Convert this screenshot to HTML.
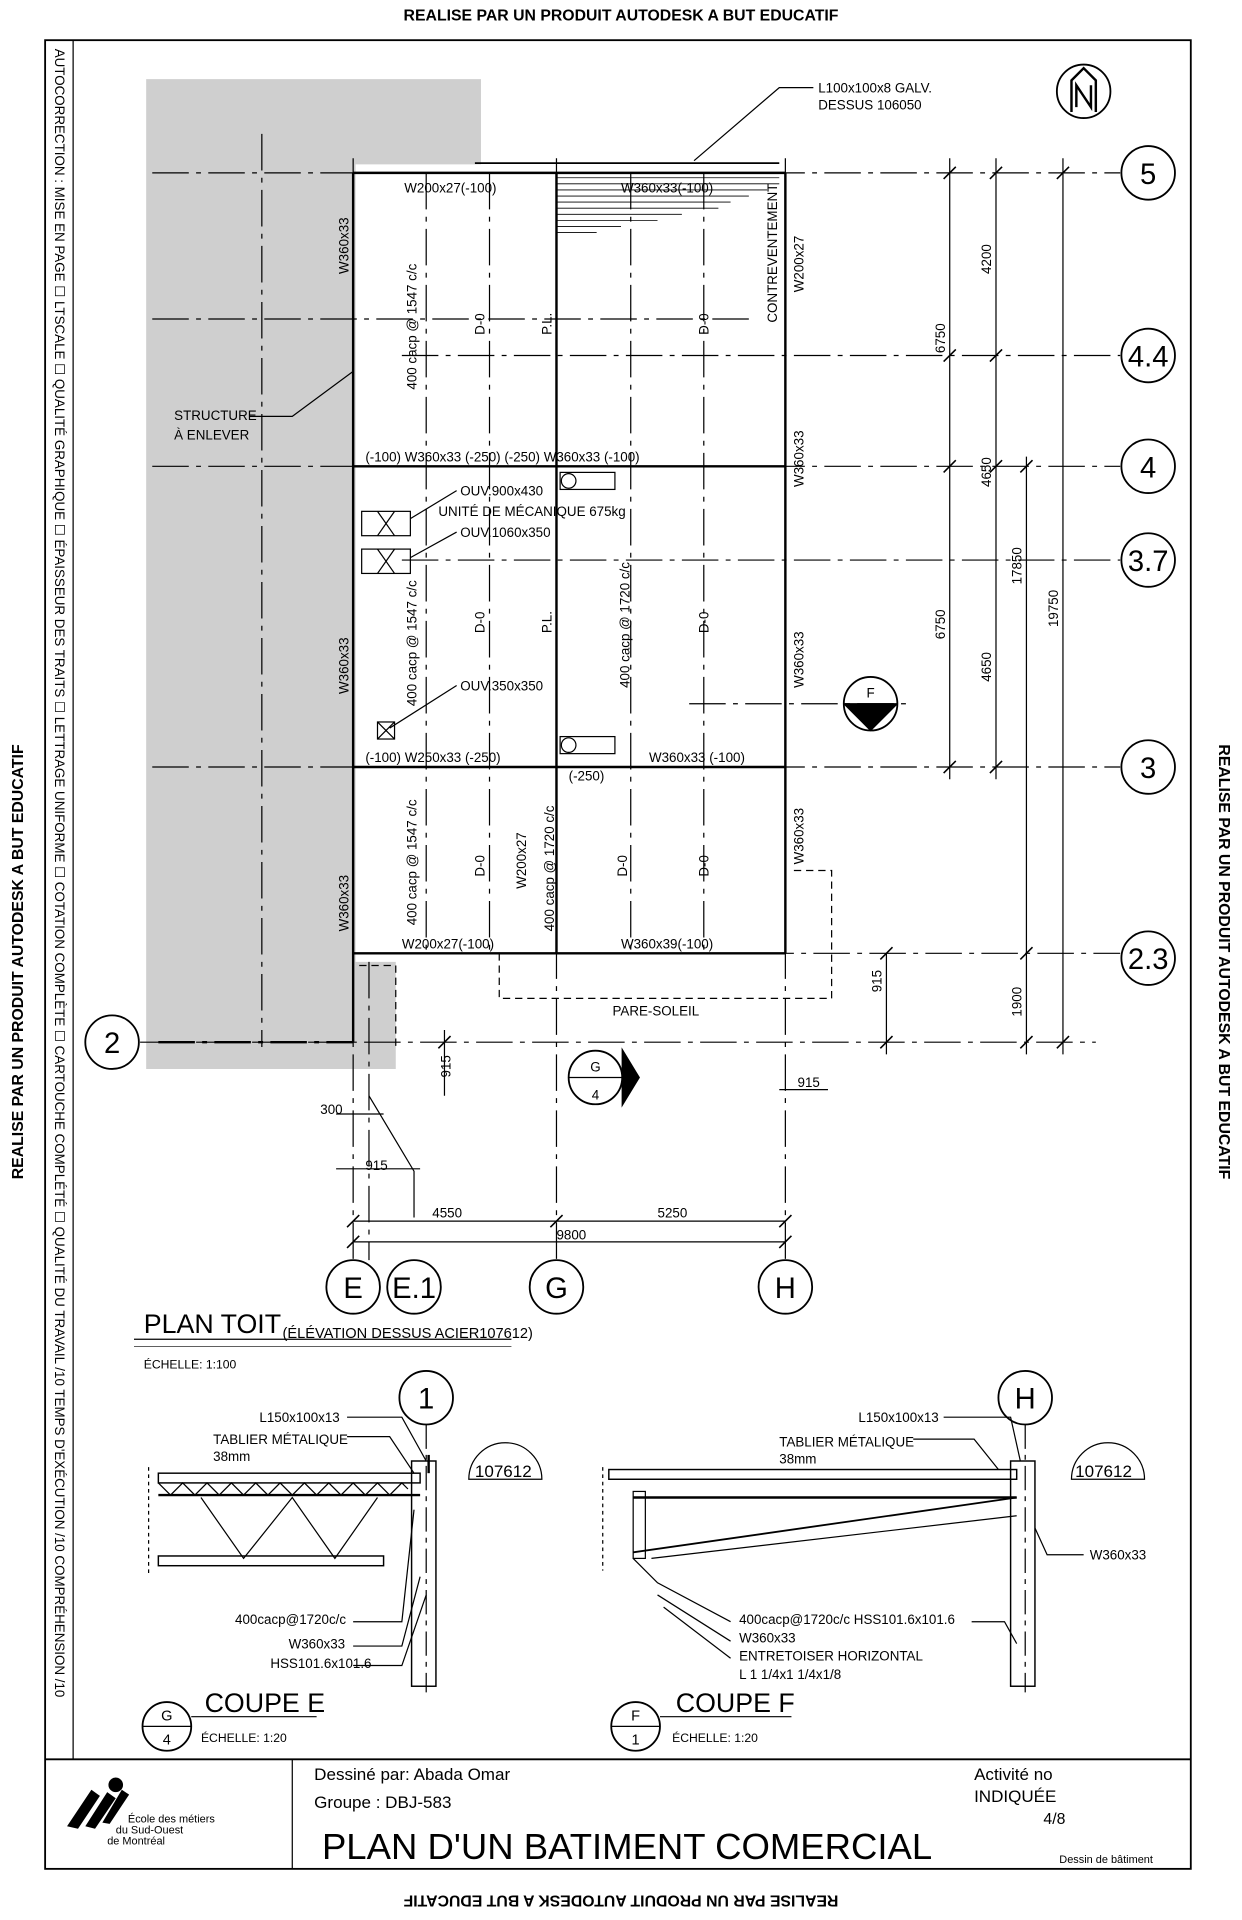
<!DOCTYPE html>
<html><head><meta charset="utf-8"><style>
html,body{margin:0;padding:0;background:#fff}
svg{display:block}
text{font-family:"Liberation Sans",sans-serif;fill:#000}
.m{font-family:"Liberation Sans",sans-serif;font-size:11px}
</style></head><body>
<svg width="1242" height="1920" viewBox="0 0 1020 1577" xmlns="http://www.w3.org/2000/svg">
<rect width="1020" height="1577" fill="#fff"/>
<!-- gray structure area -->
<polygon points="120,65 395,65 395,135 292,135 292,790 325,790 325,878 120,878" fill="#cfcfcf"/>
<!-- outer texts -->
<text x="510" y="17" font-size="13" font-weight="bold" text-anchor="middle">REALISE PAR UN PRODUIT AUTODESK A BUT EDUCATIF</text>
<text transform="translate(510,1557) rotate(180)" font-size="13" font-weight="bold" text-anchor="middle">REALISE PAR UN PRODUIT AUTODESK A BUT EDUCATIF</text>
<text transform="translate(19,790) rotate(-90)" font-size="13" font-weight="bold" text-anchor="middle">REALISE PAR UN PRODUIT AUTODESK A BUT EDUCATIF</text>
<text transform="translate(1001,790) rotate(90)" font-size="13" font-weight="bold" text-anchor="middle">REALISE PAR UN PRODUIT AUTODESK A BUT EDUCATIF</text>
<!-- border -->
<rect x="37" y="33" width="941" height="1502" fill="none" stroke="#000" stroke-width="1.5"/>
<line x1="60" y1="33" x2="60" y2="1445" stroke="#000"/>
<text transform="translate(45,40) rotate(90)" font-size="11">AUTOCORRECTION :  MISE EN PAGE ☐   LTSCALE ☐   QUALITÉ GRAPHIQUE ☐   ÉPAISSEUR DES TRAITS ☐   LETTRAGE UNIFORME ☐   COTATION COMPLÈTE ☐   CARTOUCHE COMPLÉTÉ ☐   QUALITÉ DU TRAVAIL  /10  TEMPS D'EXÉCUTION  /10  COMPRÉHENSION  /10</text>
<!-- title block -->
<line x1="37" y1="1445" x2="978" y2="1445" stroke="#000" stroke-width="1.5"/>
<line x1="240" y1="1445" x2="240" y2="1535" stroke="#000"/>
<text x="258" y="1462" font-size="14">Dessiné par: Abada Omar</text>
<text x="258" y="1485" font-size="14">Groupe       : DBJ-583</text>
<text x="800" y="1462" font-size="14">Activité no</text>
<text x="800" y="1480" font-size="14">INDIQUÉE</text>
<text x="875" y="1498" font-size="13" text-anchor="end">4/8</text>
<text x="515" y="1527" font-size="30" text-anchor="middle">PLAN D'UN BATIMENT COMERCIAL</text>
<text x="870" y="1530" font-size="9">Dessin de bâtiment</text>
<g fill="#000"><circle cx="95" cy="1466" r="6"/><path d="M55,1500 L75,1470 L82,1475 L64,1502Z M70,1500 L88,1472 L95,1477 L78,1502Z M84,1497 L100,1470 L106,1474 L90,1498Z"/></g>
<text x="105" y="1497" font-size="9">École des métiers</text>
<text x="95" y="1506" font-size="9">du Sud-Ouest</text>
<text x="88" y="1515" font-size="9">de Montréal</text>

<g stroke="#000" fill="none">
<!-- grid lines horizontal (dash-dot) -->
<g stroke-dasharray="30,6,4,6" stroke-width="1">
<line x1="125" y1="142" x2="920" y2="142"/>
<line x1="330" y1="292" x2="920" y2="292"/>
<line x1="125" y1="383" x2="920" y2="383"/>
<line x1="330" y1="460" x2="920" y2="460"/>
<line x1="125" y1="630" x2="920" y2="630"/>
<line x1="300" y1="783" x2="920" y2="783"/>
<line x1="115" y1="856" x2="900" y2="856"/>
<line x1="125" y1="262" x2="620" y2="262"/>
<line x1="566" y1="578" x2="750" y2="578"/>
<line x1="215" y1="110" x2="215" y2="860"/>
<line x1="290" y1="130" x2="290" y2="1035"/>
<line x1="457" y1="130" x2="457" y2="1035"/>
<line x1="645" y1="130" x2="645" y2="1035"/>
<line x1="350" y1="142" x2="350" y2="783"/>
<line x1="402" y1="142" x2="402" y2="783"/>
<line x1="518" y1="142" x2="518" y2="783"/>
<line x1="578" y1="142" x2="578" y2="783"/>
</g>
<line x1="303" y1="790" x2="303" y2="1035" stroke-dasharray="30,6,4,6"/>
<!-- beams -->
<g stroke-width="2">
<line x1="290" y1="142" x2="645" y2="142"/>
<line x1="290" y1="383" x2="645" y2="383"/>
<line x1="290" y1="630" x2="645" y2="630"/>
<line x1="290" y1="783" x2="645" y2="783"/>
<line x1="290" y1="142" x2="290" y2="856"/>
<line x1="645" y1="142" x2="645" y2="783"/>
<line x1="457" y1="142" x2="457" y2="783"/>
<line x1="130" y1="856" x2="290" y2="856" stroke-dasharray="30,6,4,6"/>
</g>
<line x1="390" y1="134" x2="640" y2="134" stroke-width="1.5"/>
<!-- hatching -->
<g stroke-width="0.7">
<line x1="457" y1="146" x2="640" y2="146"/><line x1="457" y1="151" x2="640" y2="151"/><line x1="457" y1="156" x2="630" y2="156"/><line x1="457" y1="161" x2="615" y2="161"/><line x1="457" y1="166" x2="600" y2="166"/><line x1="457" y1="171" x2="590" y2="171"/><line x1="457" y1="176" x2="560" y2="176"/><line x1="457" y1="181" x2="540" y2="181"/><line x1="457" y1="186" x2="510" y2="186"/><line x1="457" y1="191" x2="490" y2="191"/>
</g>
<!-- pare-soleil dashed -->
<polyline points="410,783 410,820 683,820 683,715 650,715" stroke-dasharray="6,4"/>
<polyline points="295,793 325,793 325,860" stroke-dasharray="6,4"/>
<!-- openings -->
<rect x="297" y="420" width="40" height="20"/><line x1="310" y1="420" x2="324" y2="440"/><line x1="324" y1="420" x2="310" y2="440"/>
<rect x="297" y="451" width="40" height="20"/><line x1="310" y1="451" x2="324" y2="471"/><line x1="324" y1="451" x2="310" y2="471"/>
<rect x="310" y="593" width="14" height="14"/><line x1="310" y1="593" x2="324" y2="607"/><line x1="324" y1="593" x2="310" y2="607"/>
<rect x="460" y="388" width="45" height="14"/><circle cx="467" cy="395" r="6"/>
<rect x="460" y="605" width="45" height="14"/><circle cx="467" cy="612" r="6"/>
<!-- leaders -->
<polyline points="570,132 640,72 668,72"/>
<polyline points="205,342 240,342 290,305"/>
<polyline points="337,426 375,403"/><polyline points="337,458 375,437"/><polyline points="320,598 375,563"/>
<polyline points="303,900 340,962 340,1000"/>
<!-- dimension verticals right -->
<g stroke-width="1">
<line x1="780" y1="130" x2="780" y2="640"/>
<line x1="818" y1="130" x2="818" y2="640"/>
<line x1="843" y1="375" x2="843" y2="866"/>
<line x1="873" y1="130" x2="873" y2="866"/>
<line x1="728" y1="783" x2="728" y2="866"/>
<line x1="365" y1="846" x2="365" y2="900"/>
<line x1="290" y1="1003" x2="645" y2="1003"/><line x1="290" y1="1020" x2="645" y2="1020"/>
<line x1="276" y1="915" x2="315" y2="915"/><line x1="276" y1="960" x2="345" y2="960"/>
<line x1="640" y1="895" x2="680" y2="895"/>
</g>
<g stroke-width="1.3">
<path d="M775,147 l10,-10 M813,147 l10,-10 M868,147 l10,-10 M775,297 l10,-10 M813,297 l10,-10 M775,388 l10,-10 M813,388 l10,-10 M838,388 l10,-10 M775,635 l10,-10 M813,635 l10,-10 M838,788 l10,-10 M838,861 l10,-10 M868,861 l10,-10 M723,861 l10,-10 M723,788 l10,-10 M285,1008 l10,-10 M452,1008 l10,-10 M640,1008 l10,-10 M285,1025 l10,-10 M640,1025 l10,-10 M360,861 l10,-10"/>
</g>
<!-- grid bubbles -->
<g stroke-width="1.5">
<circle cx="943" cy="142" r="22"/><circle cx="943" cy="292" r="22"/><circle cx="943" cy="383" r="22"/><circle cx="943" cy="460" r="22"/><circle cx="943" cy="630" r="22"/><circle cx="943" cy="787" r="22"/>
<circle cx="92" cy="856" r="22"/>
<circle cx="290" cy="1057" r="22"/><circle cx="340" cy="1057" r="22"/><circle cx="457" cy="1057" r="22"/><circle cx="645" cy="1057" r="22"/>
<circle cx="890" cy="75" r="22"/>
</g>
<!-- section markers -->
<circle cx="489" cy="885" r="22" stroke-width="1.5"/><line x1="467" y1="885" x2="511" y2="885"/>
<path d="M511,862 L525,885 L511,908 Z" fill="#000"/>
<circle cx="715" cy="578" r="22" stroke-width="1.5"/><line x1="693" y1="578" x2="737" y2="578"/>
<path d="M693,578 L715,600 L737,578" fill="#000"/>
<!-- plan title -->
<line x1="110" y1="1100" x2="420" y2="1100"/><line x1="110" y1="1106" x2="420" y2="1106" stroke-width="0.6"/>
</g>
<path d="M880,92 L880,66 L890,56 L900,66 L900,92 M884,88 L884,70 L896,88 L896,70" fill="none" stroke="#000" stroke-width="2"/>

<!-- bubble texts -->
<g font-size="24" text-anchor="middle">
<text x="943" y="151">5</text><text x="943" y="301">4.4</text><text x="943" y="392">4</text><text x="943" y="469">3.7</text><text x="943" y="639">3</text><text x="943" y="796">2.3</text><text x="92" y="865">2</text>
<text x="290" y="1066">E</text><text x="340" y="1066">E.1</text><text x="457" y="1066">G</text><text x="645" y="1066">H</text>
</g>
<g class="m" font-size="12" text-anchor="middle"><text x="489" y="880">G</text><text x="489" y="903">4</text><text x="715" y="573">F</text><text x="715" y="594">4</text></g>

<!-- plan labels -->
<g font-size="11">
<text x="672" y="76">L100x100x8 GALV.</text><text x="672" y="90">DESSUS 106050</text>
<text x="332" y="158">W200x27(-100)</text><text x="510" y="158">W360x33(-100)</text>
<text x="143" y="345">STRUCTURE</text><text x="143" y="361">À ENLEVER</text>
<text x="300" y="379">(-100)  W360x33  (-250)  (-250)  W360x33      (-100)</text>
<text x="378" y="407">OUV.900x430</text><text x="360" y="424">UNITÉ DE MÉCANIQUE 675kg</text><text x="378" y="441">OUV.1060x350</text>
<text x="378" y="567">OUV.350x350</text>
<text x="300" y="626">(-100)  W250x33  (-250)</text><text x="533" y="626">W360x33     (-100)</text><text x="467" y="641">(-250)</text>
<text x="330" y="779">W200x27(-100)</text><text x="510" y="779">W360x39(-100)</text>
<text x="503" y="834">PARE-SOLEIL</text>
<text x="355" y="1000">4550</text><text x="540" y="1000">5250</text><text x="457" y="1018">9800</text>
<text x="263" y="915">300</text><text x="300" y="961">915</text><text x="655" y="893">915</text>
</g>
<g font-size="11">
<text transform="translate(286,225) rotate(-90)">W360x33</text>
<text transform="translate(286,570) rotate(-90)">W360x33</text>
<text transform="translate(286,765) rotate(-90)">W360x33</text>
<text transform="translate(660,240) rotate(-90)">W200x27</text>
<text transform="translate(638,265) rotate(-90)">CONTREVENTEMENT</text>
<text transform="translate(660,400) rotate(-90)">W360x33</text>
<text transform="translate(660,565) rotate(-90)">W360x33</text>
<text transform="translate(660,710) rotate(-90)">W360x33</text>
<text transform="translate(342,320) rotate(-90)">400 cacp @ 1547 c/c</text>
<text transform="translate(342,580) rotate(-90)">400 cacp @ 1547 c/c</text>
<text transform="translate(342,760) rotate(-90)">400 cacp @ 1547 c/c</text>
<text transform="translate(517,565) rotate(-90)">400 cacp @ 1720 c/c</text>
<text transform="translate(455,765) rotate(-90)">400 cacp @ 1720 c/c</text>
<text transform="translate(432,730) rotate(-90)">W200x27</text>
<text transform="translate(398,275) rotate(-90)">D-0</text><text transform="translate(398,520) rotate(-90)">D-0</text><text transform="translate(398,720) rotate(-90)">D-0</text>
<text transform="translate(453,275) rotate(-90)">P.L.</text><text transform="translate(453,520) rotate(-90)">P.L.</text>
<text transform="translate(582,275) rotate(-90)">D-0</text><text transform="translate(582,520) rotate(-90)">D-0</text><text transform="translate(582,720) rotate(-90)">D-0</text>
<text transform="translate(515,720) rotate(-90)">D-0</text>
<text transform="translate(776,290) rotate(-90)">6750</text><text transform="translate(776,525) rotate(-90)">6750</text>
<text transform="translate(814,225) rotate(-90)">4200</text><text transform="translate(814,400) rotate(-90)">4650</text><text transform="translate(814,560) rotate(-90)">4650</text>
<text transform="translate(839,480) rotate(-90)">17850</text><text transform="translate(869,515) rotate(-90)">19750</text>
<text transform="translate(839,835) rotate(-90)">1900</text><text transform="translate(724,815) rotate(-90)">915</text><text transform="translate(370,885) rotate(-90)">915</text>
</g>
<text x="118" y="1095" font-size="22">PLAN TOIT</text><text x="232" y="1099" font-size="12">(ÉLÉVATION DESSUS ACIER107612)</text>
<text x="118" y="1124" font-size="10">ÉCHELLE: 1:100</text>

<!-- sections -->
<g stroke="#000" fill="none">
<circle cx="350" cy="1148" r="22" stroke-width="1.5"/><circle cx="842" cy="1148" r="22" stroke-width="1.5"/>
<line x1="350" y1="1170" x2="350" y2="1390" stroke-dasharray="20,5,4,5"/>
<line x1="842" y1="1170" x2="842" y2="1390" stroke-dasharray="20,5,4,5"/>
<!-- coupe E -->
<rect x="130" y="1210" width="215" height="8" stroke-width="1.2"/>
<path d="M130,1218 l10,10 l10,-10 l10,10 l10,-10 l10,10 l10,-10 l10,10 l10,-10 l10,10 l10,-10 l10,10 l10,-10 l10,10 l10,-10 l10,10 l10,-10 l10,10 l10,-10 l10,10 l10,-10 l5,5"/>
<line x1="130" y1="1228" x2="345" y2="1228" stroke-width="2"/>
<path d="M165,1230 L200,1280 L240,1230 L275,1280 L310,1230"/>
<rect x="130" y="1278" width="185" height="8" stroke-width="1.2"/>
<rect x="338" y="1200" width="20" height="185" stroke-width="1.2"/>
<line x1="352" y1="1195" x2="352" y2="1210" stroke-width="2"/>
<path d="M385,1215 a30,30 0 0 1 60,0 Z"/>
<line x1="122" y1="1205" x2="122" y2="1295" stroke-dasharray="3,3"/>
<!-- coupe F -->
<rect x="500" y="1207" width="335" height="8" stroke-width="1.2"/>
<line x1="520" y1="1230" x2="835" y2="1230" stroke-width="2"/>
<line x1="520" y1="1275" x2="835" y2="1230" stroke-width="1.5"/>
<line x1="535" y1="1280" x2="835" y2="1245"/>
<rect x="520" y="1225" width="10" height="55"/>
<rect x="830" y="1200" width="20" height="185" stroke-width="1.2"/>
<path d="M880,1215 a30,30 0 0 1 60,0 Z"/>
<line x1="495" y1="1205" x2="495" y2="1290" stroke-dasharray="3,3"/>
<!-- leaders -->
<polyline points="285,1164 330,1164 350,1200"/><polyline points="285,1180 320,1180 340,1210"/>
<polyline points="290,1332 330,1332 340,1240"/><polyline points="290,1352 330,1352 345,1295"/><polyline points="290,1368 330,1368 350,1310"/>
<polyline points="775,1164 830,1164 838,1200"/><polyline points="750,1182 800,1182 820,1207"/>
<polyline points="890,1277 860,1277 850,1255"/>
<polyline points="600,1332 540,1300 520,1280"/><polyline points="600,1348 540,1310"/><polyline points="600,1362 545,1320"/>
<polyline points="798,1332 825,1332 835,1350"/>
<circle cx="137" cy="1418" r="20" stroke-width="1.5"/><line x1="117" y1="1418" x2="157" y2="1418"/>
<circle cx="522" cy="1418" r="20" stroke-width="1.5"/><line x1="502" y1="1418" x2="542" y2="1418"/>
<line x1="157" y1="1410" x2="260" y2="1410"/><line x1="542" y1="1410" x2="650" y2="1410"/>
</g>
<text x="350" y="1157" font-size="24" text-anchor="middle">1</text><text x="842" y="1157" font-size="24" text-anchor="middle">H</text>
<text x="390" y="1213" font-size="14">107612</text><text x="883" y="1213" font-size="14">107612</text>
<g font-size="11">
<text x="213" y="1168">L150x100x13</text><text x="175" y="1186">TABLIER MÉTALIQUE</text><text x="175" y="1200">38mm</text>
<text x="193" y="1334">400cacp@1720c/c</text><text x="237" y="1354">W360x33</text><text x="222" y="1370">HSS101.6x101.6</text>
<text x="705" y="1168">L150x100x13</text><text x="640" y="1188">TABLIER MÉTALIQUE</text><text x="640" y="1202">38mm</text>
<text x="895" y="1281">W360x33</text>
<text x="607" y="1334">400cacp@1720c/c   HSS101.6x101.6</text><text x="607" y="1349">W360x33</text><text x="607" y="1364">ENTRETOISER HORIZONTAL</text><text x="607" y="1379">L 1 1/4x1 1/4x1/8</text>
</g>
<text x="137" y="1413" font-size="12" text-anchor="middle">G</text><text x="137" y="1433" font-size="12" text-anchor="middle">4</text>
<text x="522" y="1413" font-size="12" text-anchor="middle">F</text><text x="522" y="1433" font-size="12" text-anchor="middle">1</text>
<text x="168" y="1406" font-size="22">COUPE E</text><text x="555" y="1406" font-size="22">COUPE F</text>
<text x="165" y="1431" font-size="10">ÉCHELLE: 1:20</text><text x="552" y="1431" font-size="10">ÉCHELLE: 1:20</text>
</svg>
</body></html>
